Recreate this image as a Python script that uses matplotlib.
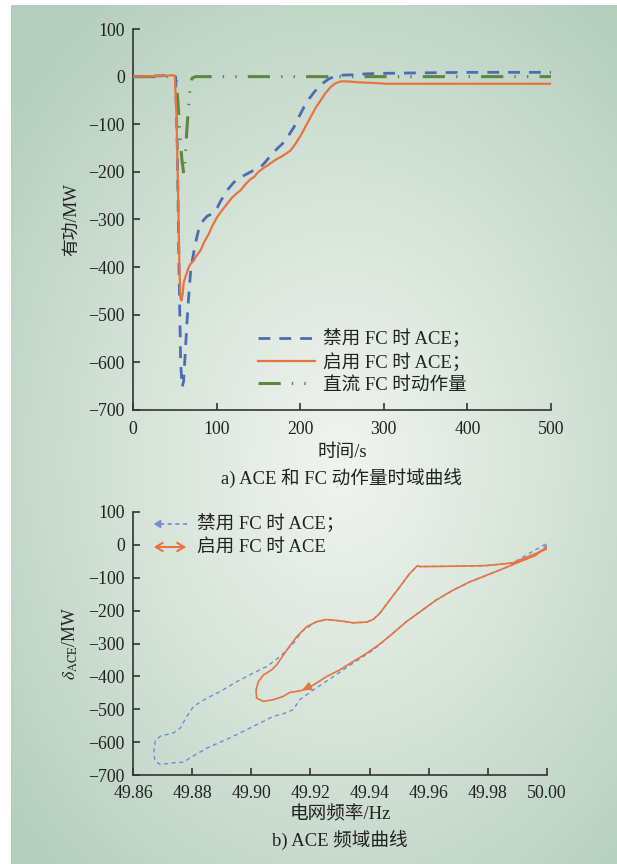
import numpy as np
import matplotlib
matplotlib.use("Agg")
import matplotlib.pyplot as plt
from matplotlib.lines import Line2D

plt.rcParams['font.family'] = ['Liberation Serif', 'Noto Sans CJK SC']
plt.rcParams['mathtext.fontset'] = 'stix'
plt.rcParams['axes.unicode_minus'] = True
plt.rcParams['lines.scale_dashes'] = False

# ---------------- data: time domain ----------------
t_blue = [0, 20, 40, 48, 51, 53, 55, 57, 58.7, 60.5, 62.5, 64.7, 66.7, 68.7, 71, 74.7, 78, 80.7, 85, 88.7,
          94.6, 100, 104.6, 112, 120.6, 128, 136.6, 145, 152.6, 158, 164.5, 172, 180.5, 186, 192.5, 198,
          204.5, 210, 216.5, 222, 228.4, 234, 240.4, 250, 264.4, 280, 304, 350, 400, 450, 500]
v_blue = [0, 1, 2, 2, 0, -150, -400, -600, -652, -640, -580, -512, -460, -414, -385, -350, -325, -310, -300, -293,
          -288, -278, -262, -240, -222, -212, -204, -196, -190, -180, -166, -152, -138, -124, -106, -86,
          -64, -48, -33, -22, -12, -5, 0, 3, 4, 6, 7, 8, 9, 9, 9]

t_orange = [0, 20, 40, 48, 50, 52, 54, 55.5, 56.7, 58, 59.5, 60.7, 62.7, 64.7, 66.7, 69, 72.7, 76, 80.7, 85,
            90.7, 95, 100.6, 106, 112.6, 118, 124, 128.6, 134, 140, 144.6, 150, 156, 160.5, 166, 172, 176.5,
            182, 188.5, 194, 200.5, 206, 212.5, 218, 224.4, 230, 236.4, 242, 248.4, 256.4, 270, 284, 304,
            350, 400, 450, 500]
v_orange = [0, 1, 2, 3, 1, -80, -250, -400, -465, -470, -455, -432, -421, -410, -400, -393, -386, -376, -365, -348,
            -330, -313, -295, -282, -267, -255, -245, -239, -227, -216, -211, -200, -192, -187, -180, -173, -169,
            -163, -155, -142, -124, -106, -85, -67, -50, -35, -22, -14, -10, -10, -12, -13, -15,
            -15, -15, -15, -15]

t_green = [0, 50, 52, 54, 56.7, 58.5, 60.7, 62.5, 64.5, 66.7, 68.5, 70.7, 75, 500]
v_green = [0, 0, -10, -60, -134, -175, -204, -170, -110, -57, -20, -3, 0, 0]

# ---------------- data: frequency domain ----------------
f_blue = [50.000, 49.996, 49.9906, 49.985, 49.9794, 49.9738, 49.9682, 49.9625, 49.957, 49.9524, 49.9479,
          49.9445, 49.9412, 49.9344, 49.9277, 49.921, 49.9164, 49.9142, 49.9108, 49.9074, 49.9007, 49.8928,
          49.885, 49.8793, 49.8771, 49.8737, 49.8692, 49.8675, 49.867, 49.8675, 49.8692, 49.8737, 49.876,
          49.8782, 49.8805, 49.885, 49.8895, 49.8951, 49.9007, 49.9052, 49.9097, 49.9142, 49.917, 49.9198,
          49.922, 49.9254, 49.93, 49.9344, 49.939, 49.9412, 49.9434, 49.9468, 49.9502, 49.9535, 49.9561,
          49.957, 49.9682, 49.9794, 49.9884, 50.0]
d_blue = [0, -32, -52, -73, -93, -113, -138, -168, -204, -234, -269,
          -295, -320, -360, -401, -441, -471, -501, -514, -522, -552, -587,
          -618, -648, -661, -663, -668, -658, -633, -597, -582, -572, -557,
          -522, -491, -466, -446, -416, -390, -370, -340, -300, -264, -247,
          -234, -227, -231, -237, -235, -227, -209, -168, -128, -88, -64,
          -66, -65, -63, -55, 5]

f_orange = [50.000, 49.9962, 49.9906, 49.985, 49.9794, 49.9738, 49.9682, 49.9625, 49.957, 49.9524, 49.9479,
            49.9434, 49.939, 49.9344, 49.93, 49.9254, 49.921, 49.9187, 49.9164, 49.913, 49.9108, 49.9074,
            49.9041, 49.9018, 49.9016, 49.9024, 49.9041, 49.9069, 49.9086, 49.912, 49.9153, 49.9187, 49.922,
            49.9254, 49.93, 49.9344, 49.939, 49.9412, 49.9434, 49.9468, 49.9502, 49.9535, 49.9561, 49.957,
            49.9682, 49.9794, 49.9884, 50.0]
d_orange = [-5, -32, -52, -73, -93, -113, -138, -168, -204, -234, -269,
            -302, -330, -355, -380, -401, -426, -439, -444, -449, -461, -471,
            -476, -466, -441, -416, -396, -380, -365, -320, -280, -249, -234,
            -227, -231, -237, -235, -227, -209, -168, -128, -88, -64, -66,
            -65, -63, -55, -12]

x_ticks_top = [0, 100, 200, 300, 400, 500]
y_ticks = [-700, -600, -500, -400, -300, -200, -100, 0, 100]
x_ticks_bot = [49.86, 49.88, 49.90, 49.92, 49.94, 49.96, 49.98, 50.00]

labels_top = ['禁用 FC 时 ACE；', '启用 FC 时 ACE；', '直流 FC 时动作量']
labels_bot = ['禁用 FC 时 ACE；', '启用 FC 时 ACE']

C_BLUE = '#4a6db3'
C_BLUE2 = '#6f8fcf'
C_ORANGE = '#e8733f'
C_GREEN = '#5b8a3e'
C_TEXT = '#222222'
FS = 12.8
FSL = 13.4

W, H = 617, 864
fig = plt.figure(figsize=(W / 100, H / 100), dpi=100)
fig.patch.set_facecolor('white')

# background gradient
bg = fig.add_axes([11 / W, 0, 1 - 11 / W, 1 - 5 / H], zorder=-10)
yy, xx = np.mgrid[0:859, 0:606]
cx, cy = 330, 455
r = np.sqrt(((xx - cx) / 430.0) ** 2 + ((yy - cy) / 560.0) ** 2)
r = np.clip(r, 0, 1) ** 1.1
c0 = np.array([240, 244, 238]) / 255.0
c1 = np.array([181, 207, 190]) / 255.0
img = c0[None, None, :] * (1 - r[..., None]) + c1[None, None, :] * r[..., None]
bg.imshow(img, aspect='auto', interpolation='bilinear')
bg.set_axis_off()


def style(ax, xpad):
    for s in ['top', 'right']:
        ax.spines[s].set_visible(False)
    for s in ['left', 'bottom']:
        ax.spines[s].set_color('#333333')
        ax.spines[s].set_linewidth(1.2)
    ax.set_facecolor('none')
    ax.tick_params(direction='in', length=5, width=1.2, colors='#333333',
                   labelsize=FS, labelcolor=C_TEXT)
    ax.tick_params(axis='y', pad=6)
    ax.tick_params(axis='x', pad=xpad)


# ---------------- top axes ----------------
ax1 = fig.add_axes([133 / W, 1 - 410 / H, (551 - 133) / W, (410 - 29) / H])
style(ax1, 8)
l1, = ax1.plot(t_blue, v_blue, color=C_BLUE, lw=2.0, dashes=(8.5, 6.5), zorder=3)
l2, = ax1.plot(t_orange, v_orange, color=C_ORANGE, lw=1.6, zorder=4)
l3, = ax1.plot(t_green, v_green, color=C_GREEN, lw=2.2, dashes=(16, 8, 1, 8, 1, 8), zorder=2)
ax1.set_xlim(0, 500)
ax1.set_ylim(-700, 100)
ax1.set_xticks(x_ticks_top)
ax1.set_yticks(y_ticks)
leg = ax1.legend([l1, l2, l3], labels_top, loc='upper left', bbox_to_anchor=(0.299, 0.212),
                 frameon=False, fontsize=FSL, handlelength=3.05, handletextpad=0.45,
                 labelspacing=0.25, borderpad=0, borderaxespad=0)
for t in leg.get_texts():
    t.set_color(C_TEXT)
ax1.set_ylabel('有功/MW', fontsize=FS, color=C_TEXT, labelpad=6)

fig.text(342 / W, 1 - 452 / H, '时间/s', ha='center', va='center', fontsize=FSL, color=C_TEXT)
fig.text(342 / W, 1 - 478 / H, 'a) ACE 和 FC 动作量时域曲线', ha='center', va='center', fontsize=FSL, color=C_TEXT)

# ---------------- bottom axes ----------------
ax2 = fig.add_axes([133 / W, 1 - 775 / H, (547 - 133) / W, (775 - 512) / H])
style(ax2, 7)
ax2.plot(f_blue, d_blue, color=C_BLUE2, lw=1.0, dashes=(3, 2.5), zorder=3)
ax2.plot(f_orange, d_orange, color=C_ORANGE, lw=1.2, zorder=4)
ax2.annotate('', xy=(f_orange[18], d_orange[18]), xytext=(f_orange[16], d_orange[16]),
             arrowprops=dict(arrowstyle='-|>,head_length=0.5,head_width=0.25', color=C_ORANGE, lw=1.2),
             zorder=5)
ax2.set_xlim(49.86, 50.00)
ax2.set_ylim(-700, 100)
ax2.set_xticks(x_ticks_bot)
ax2.set_xticklabels([f'{v:.2f}' for v in x_ticks_bot])
ax2.set_yticks(y_ticks)
ax2.set_ylabel(r'$\delta_{\mathrm{ACE}}$/MW', fontsize=FS, color=C_TEXT, labelpad=6)

# manual legend for bottom chart
fig.add_artist(Line2D([160 / W, 188 / W], [1 - 524 / H, 1 - 524 / H], color=C_BLUE2, lw=1.2,
                      dashes=(3, 2.5)))
fig.add_artist(matplotlib.patches.FancyArrowPatch((165 / W, 1 - 524 / H), (151 / W, 1 - 524 / H),
                                                  transform=fig.transFigure, arrowstyle='-|>,head_length=4,head_width=2.5',
                                                  color=C_BLUE2, lw=1.0))
fig.add_artist(matplotlib.patches.FancyArrowPatch((151 / W, 1 - 547 / H), (189 / W, 1 - 547 / H),
                                                  transform=fig.transFigure, arrowstyle='<->,head_length=5,head_width=3',
                                                  color=C_ORANGE, lw=1.5))
fig.text(197 / W, 1 - 523 / H, labels_bot[0], ha='left', va='center', fontsize=FSL, color=C_TEXT)
fig.text(197 / W, 1 - 547 / H, labels_bot[1], ha='left', va='center', fontsize=FSL, color=C_TEXT)

fig.text(340 / W, 1 - 815 / H, '电网频率/Hz', ha='center', va='center', fontsize=FSL, color=C_TEXT)
fig.text(340 / W, 1 - 840 / H, 'b) ACE 频域曲线', ha='center', va='center', fontsize=FSL, color=C_TEXT)

fig.savefig('out.png', dpi=100)
